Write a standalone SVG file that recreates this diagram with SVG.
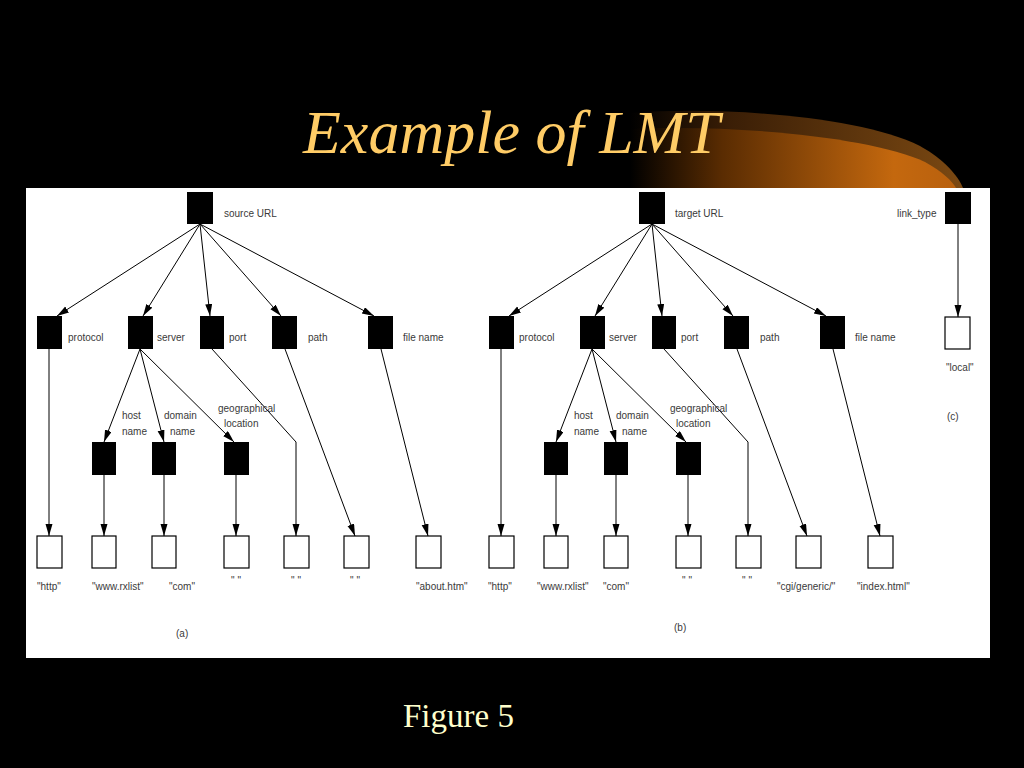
<svg xmlns="http://www.w3.org/2000/svg" width="1024" height="768" viewBox="0 0 1024 768">
<defs>
  <linearGradient id="gOuter" gradientUnits="userSpaceOnUse" x1="630" y1="0" x2="960" y2="0">
    <stop offset="0" stop-color="#000000"/>
    <stop offset="0.3" stop-color="#3a1e06"/>
    <stop offset="1" stop-color="#7a4812"/>
  </linearGradient>
  <linearGradient id="gInner" gradientUnits="userSpaceOnUse" x1="630" y1="0" x2="960" y2="0">
    <stop offset="0" stop-color="#000000"/>
    <stop offset="0.28" stop-color="#5a2c02"/>
    <stop offset="0.8" stop-color="#c4680e"/>
    <stop offset="1" stop-color="#b8600e"/>
  </linearGradient>
  <marker id="arr" markerUnits="userSpaceOnUse" markerWidth="14" markerHeight="9" refX="12" refY="3.5" orient="auto">
    <path d="M0,0 L12,3.5 L0,7 z" fill="#000"/>
  </marker>
</defs>
<style>
  .box { fill: #000; }
  .leaf { fill: #fff; stroke: #000; stroke-width: 1.2; }
  .lbl { font-family: "Liberation Sans", Arial, sans-serif; font-size: 10px; fill: #3a3a3a; }
  .mid { text-anchor: middle; }
  .edge { fill: none; stroke: #000; stroke-width: 1; marker-end: url(#arr); }
</style>
<rect x="0" y="0" width="1024" height="768" fill="#000"/>
<g id="swoosh">
  <path d="M630,188 L630,113 C720,106 860,116 920,146 C945,160 958,176 963,188 Z" fill="url(#gOuter)"/>
  <path d="M630,188 L630,129 C740,124 875,138 925,162 C943,172 952,181 956,188 Z" fill="url(#gInner)"/>
</g>
<text x="303" y="153" font-family="Liberation Serif, Times New Roman, serif" font-style="italic" font-size="62" fill="#FFCC66">Example of LMT</text>
<rect id="panel" x="26" y="188" width="964" height="470" fill="#fff"/>

<g id="connectors">
  <path class="edge" d="M200,224 L57,316"/>
  <path class="edge" d="M200,224 L143,316"/>
  <path class="edge" d="M200,224 L210,316"/>
  <path class="edge" d="M200,224 L281,316"/>
  <path class="edge" d="M200,224 L374,316"/>
  <path class="edge" d="M49,349 L49,536"/>
  <path class="edge" d="M140,349 L104,442"/>
  <path class="edge" d="M140,349 L164,442"/>
  <path class="edge" d="M140,349 L234,442"/>
  <path class="edge" d="M212,349 L296,442 L296,536"/>
  <path class="edge" d="M285,349 L355,536"/>
  <path class="edge" d="M381,349 L428,536"/>
  <path class="edge" d="M104,475 L104,536"/>
  <path class="edge" d="M164,475 L164,536"/>
  <path class="edge" d="M236,475 L236,536"/>

  <path class="edge" d="M652,224 L509,316"/>
  <path class="edge" d="M652,224 L595,316"/>
  <path class="edge" d="M652,224 L662,316"/>
  <path class="edge" d="M652,224 L733,316"/>
  <path class="edge" d="M652,224 L826,316"/>
  <path class="edge" d="M501,349 L501,536"/>
  <path class="edge" d="M592,349 L556,442"/>
  <path class="edge" d="M592,349 L616,442"/>
  <path class="edge" d="M592,349 L686,442"/>
  <path class="edge" d="M664,349 L748,442 L748,536"/>
  <path class="edge" d="M737,349 L807,536"/>
  <path class="edge" d="M833,349 L880,536"/>
  <path class="edge" d="M556,475 L556,536"/>
  <path class="edge" d="M616,475 L616,536"/>
  <path class="edge" d="M688,475 L688,536"/>

  <path class="edge" d="M958,224 L958,317"/>
</g>

<!-- Tree (a) -->
<g id="a-root"><rect class="box" x="187" y="192" width="26" height="32"/><text class="lbl" x="224" y="217">source URL</text></g>
<g id="a-protocol"><rect class="box" x="37" y="316" width="25" height="33"/><text class="lbl" x="68" y="341">protocol</text></g>
<g id="a-server"><rect class="box" x="128" y="316" width="25" height="33"/><text class="lbl" x="157" y="341">server</text></g>
<g id="a-port"><rect class="box" x="200" y="316" width="24" height="33"/><text class="lbl" x="229" y="341">port</text></g>
<g id="a-path"><rect class="box" x="272" y="316" width="25" height="33"/><text class="lbl" x="308" y="341">path</text></g>
<g id="a-filename"><rect class="box" x="368" y="316" width="25" height="33"/><text class="lbl" x="403" y="341">file name</text></g>
<g id="a-host"><rect class="box" x="92" y="442" width="24" height="33"/><text class="lbl" x="122" y="419">host</text><text class="lbl" x="122" y="435">name</text></g>
<g id="a-domain"><rect class="box" x="152" y="442" width="24" height="33"/><text class="lbl" x="164" y="419">domain</text><text class="lbl" x="170" y="435">name</text></g>
<g id="a-geo"><rect class="box" x="224" y="442" width="25" height="33"/><text class="lbl" x="218" y="412">geographical</text><text class="lbl" x="224" y="427">location</text></g>
<g id="a-leaf1"><rect class="leaf" x="37" y="536" width="25" height="32"/><text class="lbl" x="37" y="590">"http"</text></g>
<g id="a-leaf2"><rect class="leaf" x="92" y="536" width="24" height="32"/><text class="lbl" x="92" y="590">"www.rxlist"</text></g>
<g id="a-leaf3"><rect class="leaf" x="152" y="536" width="24" height="32"/><text class="lbl" x="169" y="590">"com"</text></g>
<g id="a-leaf4"><rect class="leaf" x="224" y="536" width="25" height="32"/><text class="lbl mid" x="236" y="584">" "</text></g>
<g id="a-leaf5"><rect class="leaf" x="284" y="536" width="25" height="32"/><text class="lbl mid" x="296" y="584">" "</text></g>
<g id="a-leaf6"><rect class="leaf" x="344" y="536" width="25" height="32"/><text class="lbl mid" x="355" y="584">" "</text></g>
<g id="a-leaf7"><rect class="leaf" x="416" y="536" width="25" height="32"/><text class="lbl" x="416" y="590">"about.htm"</text></g>
<text class="lbl" x="176" y="637">(a)</text>

<!-- Tree (b) -->
<g id="b-root"><rect class="box" x="639" y="192" width="26" height="32"/><text class="lbl" x="675" y="217">target URL</text></g>
<g id="b-protocol"><rect class="box" x="489" y="316" width="25" height="33"/><text class="lbl" x="519" y="341">protocol</text></g>
<g id="b-server"><rect class="box" x="580" y="316" width="25" height="33"/><text class="lbl" x="609" y="341">server</text></g>
<g id="b-port"><rect class="box" x="652" y="316" width="24" height="33"/><text class="lbl" x="681" y="341">port</text></g>
<g id="b-path"><rect class="box" x="724" y="316" width="25" height="33"/><text class="lbl" x="760" y="341">path</text></g>
<g id="b-filename"><rect class="box" x="820" y="316" width="25" height="33"/><text class="lbl" x="855" y="341">file name</text></g>
<g id="b-host"><rect class="box" x="544" y="442" width="24" height="33"/><text class="lbl" x="574" y="419">host</text><text class="lbl" x="574" y="435">name</text></g>
<g id="b-domain"><rect class="box" x="604" y="442" width="24" height="33"/><text class="lbl" x="616" y="419">domain</text><text class="lbl" x="622" y="435">name</text></g>
<g id="b-geo"><rect class="box" x="676" y="442" width="25" height="33"/><text class="lbl" x="670" y="412">geographical</text><text class="lbl" x="676" y="427">location</text></g>
<g id="b-leaf1"><rect class="leaf" x="489" y="536" width="25" height="32"/><text class="lbl" x="488" y="590">"http"</text></g>
<g id="b-leaf2"><rect class="leaf" x="544" y="536" width="24" height="32"/><text class="lbl" x="537" y="590">"www.rxlist"</text></g>
<g id="b-leaf3"><rect class="leaf" x="604" y="536" width="24" height="32"/><text class="lbl" x="603" y="590">"com"</text></g>
<g id="b-leaf4"><rect class="leaf" x="676" y="536" width="25" height="32"/><text class="lbl mid" x="687" y="584">" "</text></g>
<g id="b-leaf5"><rect class="leaf" x="736" y="536" width="25" height="32"/><text class="lbl mid" x="747" y="584">" "</text></g>
<g id="b-leaf6"><rect class="leaf" x="796" y="536" width="25" height="32"/><text class="lbl" x="777" y="590">"cgi/generic/"</text></g>
<g id="b-leaf7"><rect class="leaf" x="868" y="536" width="25" height="32"/><text class="lbl" x="857" y="590">"index.html"</text></g>
<text class="lbl" x="674" y="631">(b)</text>

<!-- Tree (c) -->
<g id="c-linktype"><rect class="box" x="945" y="192" width="26" height="32"/><text class="lbl" x="897" y="217">link_type</text></g>
<g id="c-local"><rect class="leaf" x="945" y="317" width="25" height="32"/><text class="lbl" x="946" y="371">"local"</text></g>
<text class="lbl" x="947" y="420">(c)</text>

<text x="403" y="727" font-family="Liberation Serif, Times New Roman, serif" font-size="33" fill="#FFFFCC">Figure 5</text>
</svg>
